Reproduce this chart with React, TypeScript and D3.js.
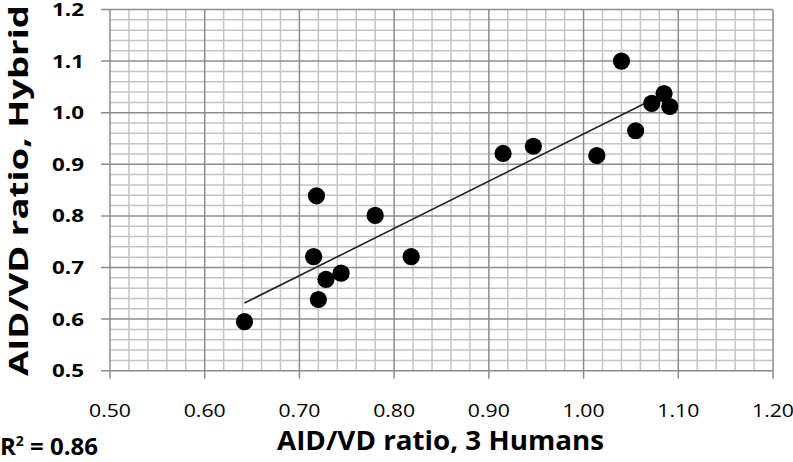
import React from "react";
import * as d3 from "d3";

const humans = [0.642, 0.718, 0.715, 0.720, 0.728, 0.744, 0.780, 0.818, 0.915, 0.947, 1.014, 1.040, 1.055, 1.072, 1.085, 1.091];
const hybrid = [0.595, 0.839, 0.721, 0.638, 0.677, 0.689, 0.801, 0.721, 0.921, 0.935, 0.917, 1.100, 0.965, 1.018, 1.037, 1.012];
const xTicks = [0.5, 0.6, 0.7, 0.8, 0.9, 1.0, 1.1, 1.2];
const yTicks = [0.5, 0.6, 0.7, 0.8, 0.9, 1.0, 1.1, 1.2];
const xTitle = "AID/VD ratio, 3 Humans";
const yTitle = "AID/VD ratio, Hybrid";
const r2Label = "0.86";

const W = 793;
const H = 462;

export default function App() {
  const x = d3.scaleLinear().domain([0.5, 1.2]).range([110, 773]);
  const y = d3.scaleLinear().domain([0.5, 1.2]).range([370.7, 9.5]);

  const minor = d3.range(0, 36).map((i) => 0.5 + i * 0.02);
  const isMajor = (v: number) => Math.abs(v * 10 - Math.round(v * 10)) < 1e-6;

  const pts = humans.map((h, i) => ({ x: h, y: hybrid[i] }));
  const mx = d3.mean(humans)!;
  const my = d3.mean(hybrid)!;
  const sxy = d3.sum(pts, (p) => (p.x - mx) * (p.y - my));
  const sxx = d3.sum(pts, (p) => (p.x - mx) ** 2);
  const slope = sxy / sxx;
  const icpt = my - slope * mx;
  const [x0, x1] = d3.extent(humans) as [number, number];
  const line = d3.line<number>().x((v) => x(v)).y((v) => y(icpt + slope * v));

  return (
    <svg width={W} height={H} style={{ position: "absolute", left: 0, top: 0, background: "#fff" }}>
      {/* minor grid */}
      {minor.filter((v) => !isMajor(v)).map((v, i) => (
        <g key={"m" + i}>
          <line x1={x(v)} x2={x(v)} y1={y(1.2)} y2={y(0.5)} stroke="#c4c4c4" strokeWidth={1.5} />
          <line x1={x(0.5)} x2={x(1.2)} y1={y(v)} y2={y(v)} stroke="#c4c4c4" strokeWidth={1.5} />
        </g>
      ))}
      {/* major grid */}
      {xTicks.map((v, i) => (
        <line key={"gx" + i} x1={x(v)} x2={x(v)} y1={y(1.2)} y2={y(0.5) + 8} stroke="#8c8c8c" strokeWidth={1.5} />
      ))}
      {yTicks.map((v, i) => (
        <line key={"gy" + i} x1={x(0.5) - 9} x2={x(1.2)} y1={y(v)} y2={y(v)} stroke="#8c8c8c" strokeWidth={1.5} />
      ))}
      {/* trendline */}
      <path d={line([x0, x1]) || ""} fill="none" stroke="#222" strokeWidth={1.6} />
      {/* points */}
      {pts.map((p, i) => (
        <circle key={"p" + i} cx={x(p.x)} cy={y(p.y)} r={8.6} fill="#000" />
      ))}
      {/* y tick labels */}
      {yTicks.map((v, i) => (
        <text key={"yl" + i} x={84} y={y(v) + 6.5} textAnchor="end" fontFamily="'Open Sans', sans-serif" fontWeight="bold" fontSize={18} textLength={32} lengthAdjust="spacingAndGlyphs" fill="#000">
          {v.toFixed(1)}
        </text>
      ))}
      {/* x tick labels */}
      {xTicks.map((v, i) => (
        <text key={"xl" + i} x={x(v)} y={417} textAnchor="middle" fontFamily="'Open Sans', sans-serif" fontSize={19} textLength={42} lengthAdjust="spacingAndGlyphs" fill="#000">
          {v.toFixed(2)}
        </text>
      ))}
      {/* axis titles */}
      <text x={277} y={450} fontFamily="'Open Sans', sans-serif" fontWeight="bold" fontSize={27} textLength={327} lengthAdjust="spacingAndGlyphs" fill="#000">
        {xTitle}
      </text>
      <text transform="translate(28,190.5) rotate(-90)" textAnchor="middle" fontFamily="'Open Sans', sans-serif" fontWeight="bold" fontSize={27} textLength={371} lengthAdjust="spacingAndGlyphs" fill="#000">
        {yTitle}
      </text>
      {/* R squared */}
      <text x={0} y={455} fontFamily="'Open Sans', sans-serif" fontWeight="bold" fontSize={24} fill="#000">
        R<tspan fontSize={14} dy={-9}>2</tspan>
        <tspan dy={9}>{" = " + r2Label}</tspan>
      </text>
    </svg>
  );
}
